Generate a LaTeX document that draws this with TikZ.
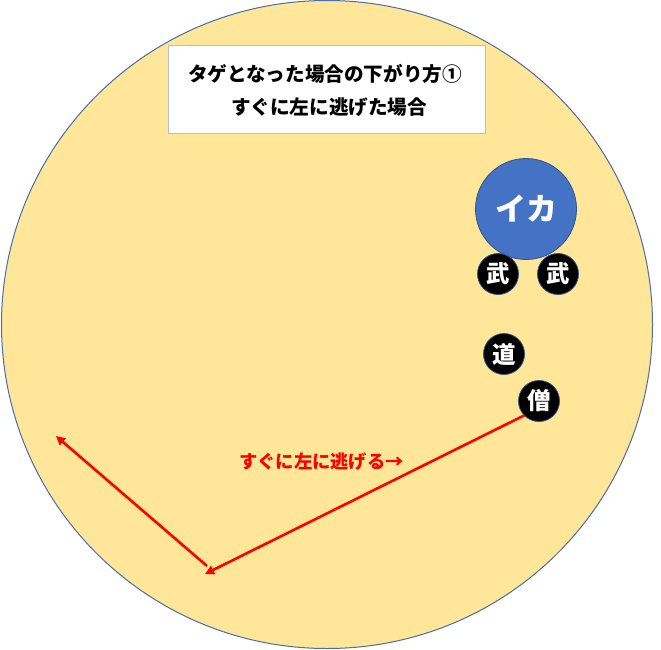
\documentclass[tikz,border=0pt]{standalone}
\usepackage{fontspec}
\newfontfamily\jp{Noto Sans CJK JP}
\usetikzlibrary{arrows.meta}
\definecolor{field}{HTML}{FFE699}
\definecolor{edge}{HTML}{4A6EA8}
\definecolor{ikablue}{HTML}{4472C4}
\definecolor{ikaedge}{HTML}{2F528F}
\definecolor{boxedge}{HTML}{B4BDD3}
\tikzset{
  player/.style={circle, fill=black, draw=ikaedge, line width=0.8pt, minimum size=41pt, inner sep=0pt, text=white, font=\jp\bfseries\fontsize{23.5}{23.5}\selectfont},
  ika/.style={circle, fill=ikablue, draw=ikaedge, line width=0.8pt, minimum size=101pt, inner sep=0pt, text=white, font=\jp\bfseries\fontsize{31}{31}\selectfont},
  move/.style={draw=red, line width=2.6pt, -{Triangle[length=9pt,width=9pt]}},
  title/.style={font=\jp\bfseries\fontsize{19.6}{19.6}\selectfont, text=black},
}
\begin{document}
\begin{tikzpicture}[x=1pt,y=-1pt]
\useasboundingbox (0,0) rectangle (661,650);
\fill[white] (0,0) rectangle (661,650);
\draw[fill=field, draw=edge, line width=1pt] (327,324.5) ellipse [x radius=325.5, y radius=324];
\node[draw=boxedge, fill=white, line width=0.8pt, minimum width=317pt, minimum height=88pt, inner sep=0pt] (box) at (326.5,89) {};
\node[title] (t1) at (325,74) {タゲとなった場合の下がり方①};
\node[title] (t2) at (329,107) {すぐに左に逃げた場合};
\node[ika] (ika) at (526,209) {イカ};
\node[player] (bu1) at (498,274) {武};
\node[player] (bu2) at (558,274) {武};
\node[player] (dou) at (504,354) {道};
\coordinate (turn) at (205,574);
\coordinate (turnb) at (207,566);
\coordinate (end) at (56,436);
\draw[move] (539,401) ++(-14,14) coordinate (start) -- (turn);
\draw[move] (turnb) -- (end);
\node[player] (sou) at (539,401) {僧};
\node[font=\jp\bfseries\fontsize{18.3}{18.3}\selectfont, text=red] (lbl) at (321.5,462) {すぐに左に逃げる→};
\end{tikzpicture}
\end{document}
